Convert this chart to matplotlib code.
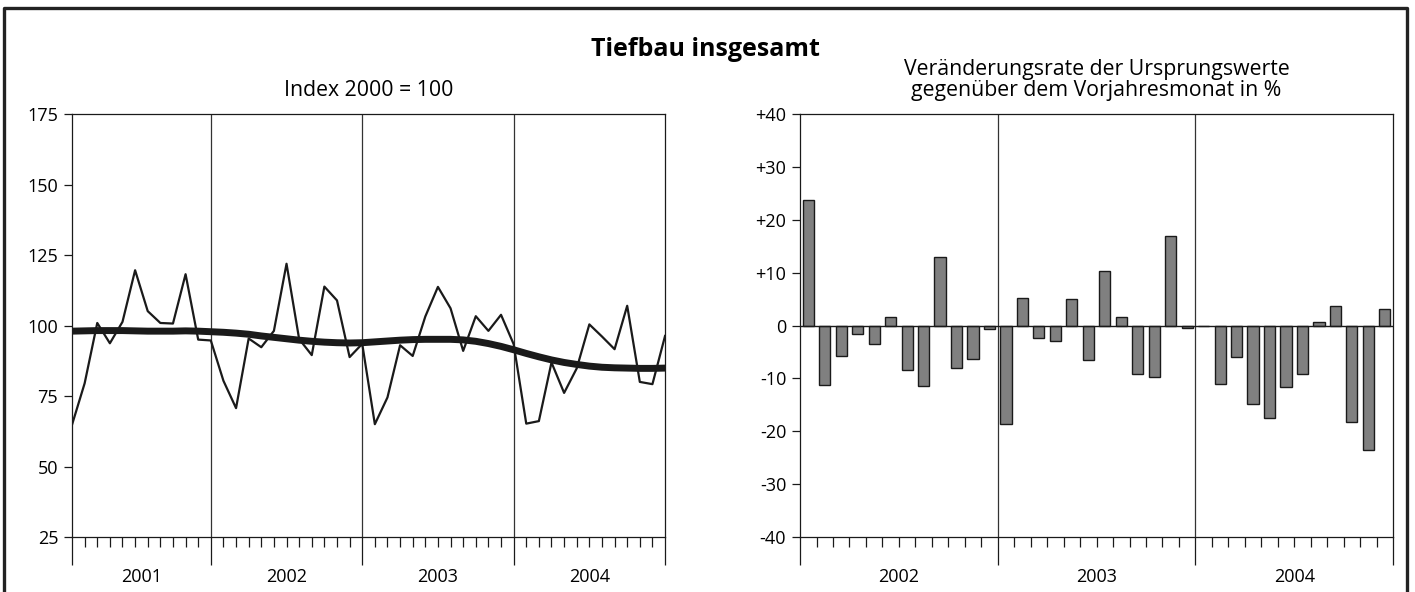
import numpy as np
import matplotlib as mpl

mpl.use("Agg")
import matplotlib.pyplot as plt  # noqa
from matplotlib.lines import Line2D  # noqa

plt.rcParams['font.family'] = ['Open Sans', 'DejaVu Sans']

# Index 2000 = 100, monthly Jan 2001 .. Dec 2004
index_vals = [
    64.8, 79.5, 100.9, 93.7, 101.3, 119.6, 105.1, 100.9, 100.7, 118.2, 95.0, 94.7,
    80.4, 70.7, 95.4, 92.3, 98.1, 121.9, 95.2, 89.5, 113.8, 108.9, 88.8, 93.5,
    65.0, 74.5, 93.0, 89.2, 103.2, 113.7, 106.1, 91.0, 103.3, 98.1, 103.8, 93.4,
    65.2, 66.1, 86.9, 76.1, 84.8, 100.4, 96.1, 91.6, 107.0, 80.0, 79.2, 96.3,
]
trend_vals = [
    98.0, 98.1, 98.2, 98.2, 98.2, 98.1, 98.0, 98.0, 98.0, 98.1, 98.0, 97.8,
    97.6, 97.3, 96.9, 96.3, 95.8, 95.3, 94.8, 94.4, 94.1, 93.9, 93.8, 93.9,
    94.2, 94.5, 94.8, 95.0, 95.1, 95.1, 95.1, 94.9, 94.4, 93.6, 92.6, 91.4,
    90.1, 88.9, 87.8, 86.9, 86.2, 85.6, 85.2, 85.0, 84.9, 84.8, 84.8, 84.9,
]
years_left = ['2001', '2002', '2003', '2004']

# Veraenderungsrate gegenueber Vorjahresmonat, Jan 2002 .. Dec 2004
change_vals = [
    23.8, -11.2, -5.7, -1.6, -3.5, 1.7, -8.4, -11.4, 13.0, -8.1, -6.4, -0.7,
    -18.7, 5.2, -2.4, -3.0, 5.0, -6.5, 10.4, 1.7, -9.2, -9.7, 16.9, -0.4,
    0.0, -11.0, -6.0, -14.8, -17.4, -11.6, -9.1, 0.75, 3.6, -18.2, -23.6, 3.1,
]
years_right = ['2002', '2003', '2004']

left_yticks = [25, 50, 75, 100, 125, 150, 175]
right_yticks = [-40, -30, -20, -10, 0, 10, 20, 30, 40]

ink = '#1a1a1a'
fs = 13
fs_sub = 15.3

fig = plt.figure(figsize=(14.15, 5.92), dpi=100)

# ---- left: index ----
ax1 = fig.add_axes([0.0509, 0.0929, 0.4191, 0.7145])
x = np.arange(len(index_vals))
ax1.plot(x, trend_vals, color=ink, lw=5.0, solid_capstyle='round', zorder=3)
ax1.plot(x, index_vals, color=ink, lw=1.6, zorder=4)
ax1.set_xlim(0, len(index_vals) - 1)
ax1.set_ylim(25, 175)
ax1.set_yticks(left_yticks)
ax1.set_yticklabels([str(v) for v in left_yticks], fontsize=fs)
left_bounds = [0, 11, 23, 35, 47]
for b in left_bounds[1:-1]:
    ax1.axvline(b, color='#333333', lw=0.9, zorder=2)
ax1.set_xticks(left_bounds)
ax1.set_xticklabels([])
ax1.set_xticks(x, minor=True)
for i, yr in enumerate(years_left):
    c = (left_bounds[i] + left_bounds[i + 1]) / 2
    ax1.text(c, -0.095, yr, transform=ax1.get_xaxis_transform(),
             ha='center', va='center', fontsize=fs)
ax1.set_title('Index 2000 = 100', fontsize=fs_sub, pad=13)

# ---- right: change rates ----
ax2 = fig.add_axes([0.5654, 0.0929, 0.4191, 0.7145])
xb = np.arange(len(change_vals)) + 0.5
ax2.bar(xb, change_vals, width=0.68, color='#808080', edgecolor=ink,
        linewidth=1.0, zorder=3)
ax2.axhline(0, color=ink, lw=1.0, zorder=4)
ax2.set_xlim(0, len(change_vals))
ax2.set_ylim(-40, 40)
ax2.set_yticks(right_yticks)
ax2.set_yticklabels([('+%d' % v) if v > 0 else str(v) for v in right_yticks],
                    fontsize=fs)
right_bounds = [0, 12, 24, 36]
for b in right_bounds[1:-1]:
    ax2.axvline(b, color='#333333', lw=0.9, zorder=2)
ax2.set_xticks(right_bounds)
ax2.set_xticklabels([])
ax2.set_xticks(np.arange(len(change_vals) + 1), minor=True)
for i, yr in enumerate(years_right):
    c = (right_bounds[i] + right_bounds[i + 1]) / 2
    ax2.text(c, -0.095, yr, transform=ax2.get_xaxis_transform(),
             ha='center', va='center', fontsize=fs)
ax2.set_title('Veränderungsrate der Ursprungswerte\n'
              'gegenüber dem Vorjahresmonat in %', fontsize=fs_sub, pad=13,
              linespacing=1.0)

for ax in (ax1, ax2):
    for s in ax.spines.values():
        s.set_color(ink)
        s.set_linewidth(0.9)
    ax.tick_params(axis='x', which='major', length=20, width=0.9, color=ink)
    ax.tick_params(axis='x', which='minor', length=7, width=0.9, color=ink)
    ax.tick_params(axis='y', length=6, width=0.9, color=ink, pad=4)

fig.text(0.4985, 0.917, 'Tiefbau insgesamt', ha='center', va='center',
         fontsize=18, fontweight='bold')

# outer frame (left, top, right)
frame_x = [0.0025, 0.0025, 0.9943, 0.9943]
frame_y = [0.0, 0.9865, 0.9865, 0.0]
fig.add_artist(Line2D(frame_x, frame_y, transform=fig.transFigure,
                      color='#222222', lw=2.4))

fig.savefig('out.png', dpi=100)
